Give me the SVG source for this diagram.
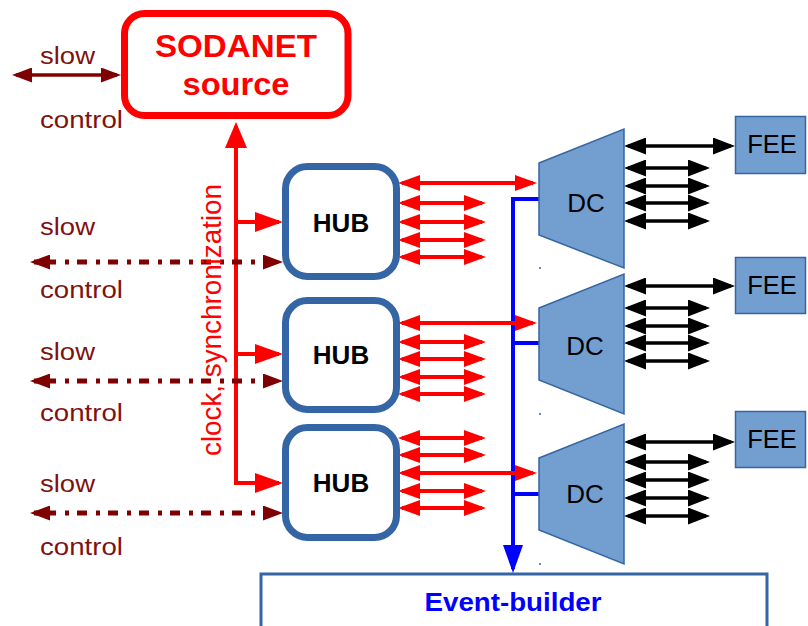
<svg xmlns="http://www.w3.org/2000/svg" width="808" height="626" viewBox="0 0 808 626">
  <style>
    .txt { font-family: "Liberation Sans", Arial, sans-serif; }
    .hub { fill: #ffffff; stroke: #3465a4; stroke-width: 7; }
    .dc, .fee { fill: #729fcf; stroke: #3465a4; stroke-width: 1.5; }
    .red { stroke: #ff0000; stroke-width: 4; fill: none; }
    .blk { stroke: #000000; stroke-width: 3.5; fill: none; }
    .mar { stroke: #7f0000; stroke-width: 3.5; fill: none; }
    .dash { stroke-width: 5; stroke-dasharray: 4 8 10 9; }
    .blu { stroke: #0000ff; stroke-width: 4; fill: none; }
    .sc { fill: #7f1111; font-size: 23px; }
  </style>
  <defs>
    <marker id="rh" markerUnits="userSpaceOnUse" markerWidth="22" markerHeight="16" refX="18" refY="8" orient="auto-start-reverse" viewBox="0 0 22 16">
      <path d="M0,0 L22,8 L0,16 z" fill="#ff0000"/>
    </marker>
    <marker id="ru" markerUnits="userSpaceOnUse" markerWidth="26" markerHeight="22" refX="22" refY="11" orient="auto" viewBox="0 0 26 22">
      <path d="M0,0 L26,11 L0,22 z" fill="#ff0000"/>
    </marker>
    <marker id="rb" markerUnits="userSpaceOnUse" markerWidth="28" markerHeight="20" refX="24" refY="10" orient="auto" viewBox="0 0 28 20">
      <path d="M0,0 L28,10 L0,20 z" fill="#ff0000"/>
    </marker>
    <marker id="kh" markerUnits="userSpaceOnUse" markerWidth="22" markerHeight="17" refX="18" refY="8.5" orient="auto-start-reverse" viewBox="0 0 22 17">
      <path d="M0,0 L22,8.5 L0,17 z" fill="#000000"/>
    </marker>
    <marker id="mh" markerUnits="userSpaceOnUse" markerWidth="20" markerHeight="15" refX="16" refY="7.5" orient="auto-start-reverse" viewBox="0 0 20 15">
      <path d="M0,0 L20,7.5 L0,15 z" fill="#7f0000"/>
    </marker>
    <marker id="bh" markerUnits="userSpaceOnUse" markerWidth="28" markerHeight="20" refX="24" refY="10" orient="auto" viewBox="0 0 28 20">
      <path d="M0,0 L28,10 L0,20 z" fill="#0000ff"/>
    </marker>
  </defs>

  <!-- event builder -->
  <g id="event-builder">
    <rect x="261" y="574" width="506" height="70" fill="#ffffff" stroke="#3465a4" stroke-width="3"/>
    <text class="txt" x="513" y="611" font-size="25" font-weight="bold" fill="#0000ff" text-anchor="middle" textLength="177" lengthAdjust="spacingAndGlyphs">Event-builder</text>
  </g>

  <g id="connectors">
    <!-- readout bus -->
    <path class="blu" d="M539,199 H513 V569" marker-end="url(#bh)"/>
    <path class="blu" d="M513,343 H539"/>
    <path class="blu" d="M513,494 H539"/>

    <!-- clock / synchronization distribution -->
    <path class="red" stroke-width="4.5" d="M236,483 V126" marker-end="url(#ru)"/>
    <path class="red" d="M236,222 H279" marker-end="url(#rb)"/>
    <path class="red" d="M234,483 H279" marker-end="url(#rb)"/>
    <path class="red" d="M236,354 H279" marker-end="url(#rb)"/>

    <!-- slow control -->
    <path class="mar" d="M16,75 H117" marker-start="url(#mh)" marker-end="url(#mh)"/>
    <path class="mar dash" d="M34,262 H279" marker-start="url(#mh)" marker-end="url(#mh)"/>
    <path class="mar dash" d="M34,381 H279" marker-start="url(#mh)" marker-end="url(#mh)"/>
    <path class="mar dash" d="M34,513 H279" marker-start="url(#mh)" marker-end="url(#mh)"/>

    <!-- HUB 1 links -->
    <path class="red" d="M402,183 H533" marker-start="url(#rh)" marker-end="url(#rh)"/>
    <path class="red" d="M402,203 H482" marker-start="url(#rh)" marker-end="url(#rh)"/>
    <path class="red" d="M402,222 H482" marker-start="url(#rh)" marker-end="url(#rh)"/>
    <path class="red" d="M402,240 H482" marker-start="url(#rh)" marker-end="url(#rh)"/>
    <path class="red" d="M402,257 H482" marker-start="url(#rh)" marker-end="url(#rh)"/>
    <!-- HUB 2 links -->
    <path class="red" d="M402,323 H533" marker-start="url(#rh)" marker-end="url(#rh)"/>
    <path class="red" d="M402,342 H482" marker-start="url(#rh)" marker-end="url(#rh)"/>
    <path class="red" d="M402,359 H482" marker-start="url(#rh)" marker-end="url(#rh)"/>
    <path class="red" d="M402,377 H482" marker-start="url(#rh)" marker-end="url(#rh)"/>
    <path class="red" d="M402,394 H482" marker-start="url(#rh)" marker-end="url(#rh)"/>
    <!-- HUB 3 links -->
    <path class="red" d="M402,438 H482" marker-start="url(#rh)" marker-end="url(#rh)"/>
    <path class="red" d="M402,455 H482" marker-start="url(#rh)" marker-end="url(#rh)"/>
    <path class="red" d="M402,473 H533" marker-start="url(#rh)" marker-end="url(#rh)"/>
    <path class="red" d="M402,491 H482" marker-start="url(#rh)" marker-end="url(#rh)"/>
    <path class="red" d="M402,508 H482" marker-start="url(#rh)" marker-end="url(#rh)"/>

    <!-- DC 1 front-end links -->
    <path class="blk" d="M628,146 H731" marker-start="url(#kh)" marker-end="url(#kh)"/>
    <path class="blk" d="M628,168 H706" marker-start="url(#kh)" marker-end="url(#kh)"/>
    <path class="blk" d="M628,186 H706" marker-start="url(#kh)" marker-end="url(#kh)"/>
    <path class="blk" d="M628,203 H706" marker-start="url(#kh)" marker-end="url(#kh)"/>
    <path class="blk" d="M628,221 H706" marker-start="url(#kh)" marker-end="url(#kh)"/>
    <!-- DC 2 front-end links -->
    <path class="blk" d="M628,286 H731" marker-start="url(#kh)" marker-end="url(#kh)"/>
    <path class="blk" d="M628,308 H706" marker-start="url(#kh)" marker-end="url(#kh)"/>
    <path class="blk" d="M628,326 H706" marker-start="url(#kh)" marker-end="url(#kh)"/>
    <path class="blk" d="M628,343 H706" marker-start="url(#kh)" marker-end="url(#kh)"/>
    <path class="blk" d="M628,361 H706" marker-start="url(#kh)" marker-end="url(#kh)"/>
    <!-- DC 3 front-end links -->
    <path class="blk" d="M628,442 H731" marker-start="url(#kh)" marker-end="url(#kh)"/>
    <path class="blk" d="M628,462 H706" marker-start="url(#kh)" marker-end="url(#kh)"/>
    <path class="blk" d="M628,480 H706" marker-start="url(#kh)" marker-end="url(#kh)"/>
    <path class="blk" d="M628,498 H706" marker-start="url(#kh)" marker-end="url(#kh)"/>
    <path class="blk" d="M628,516 H706" marker-start="url(#kh)" marker-end="url(#kh)"/>
  </g>

  <!-- SODANET source -->
  <g id="sodanet">
    <rect x="124.5" y="13.5" width="223.5" height="102" rx="20" fill="#ffffff" stroke="#ff0000" stroke-width="7"/>
    <text class="txt" x="236" y="57" font-size="31" font-weight="bold" fill="#ff0000" text-anchor="middle" textLength="162" lengthAdjust="spacingAndGlyphs">SODANET</text>
    <text class="txt" x="236" y="95" font-size="31" font-weight="bold" fill="#ff0000" text-anchor="middle" textLength="107" lengthAdjust="spacingAndGlyphs">source</text>
  </g>

  <g id="clock-label">
    <text class="txt" transform="translate(221,456) rotate(-90)" font-size="27" fill="#ff0000" textLength="272" lengthAdjust="spacingAndGlyphs">clock, synchronization</text>
  </g>

  <!-- slow control labels -->
  <g id="slow-control-labels">
    <text class="txt sc" x="40" y="64" textLength="55" lengthAdjust="spacingAndGlyphs">slow</text>
    <text class="txt sc" x="40" y="128" textLength="83" lengthAdjust="spacingAndGlyphs">control</text>
    <text class="txt sc" x="40" y="235" textLength="55" lengthAdjust="spacingAndGlyphs">slow</text>
    <text class="txt sc" x="40" y="298" textLength="83" lengthAdjust="spacingAndGlyphs">control</text>
    <text class="txt sc" x="40" y="360" textLength="55" lengthAdjust="spacingAndGlyphs">slow</text>
    <text class="txt sc" x="40" y="421" textLength="83" lengthAdjust="spacingAndGlyphs">control</text>
    <text class="txt sc" x="40" y="492" textLength="55" lengthAdjust="spacingAndGlyphs">slow</text>
    <text class="txt sc" x="40" y="555" textLength="83" lengthAdjust="spacingAndGlyphs">control</text>
  </g>

  <!-- HUBs -->
  <g id="hub1">
    <rect class="hub" x="285.5" y="166.5" width="111" height="110" rx="22"/>
    <text class="txt" x="341" y="232" font-size="26" font-weight="bold" text-anchor="middle">HUB</text>
  </g>
  <g id="hub2">
    <rect class="hub" x="285.5" y="300.5" width="111" height="109" rx="22"/>
    <text class="txt" x="341" y="364" font-size="26" font-weight="bold" text-anchor="middle">HUB</text>
  </g>
  <g id="hub3">
    <rect class="hub" x="285.5" y="427.5" width="111" height="110" rx="22"/>
    <text class="txt" x="341" y="492" font-size="26" font-weight="bold" text-anchor="middle">HUB</text>
  </g>

  <!-- data concentrators -->
  <g id="dc1">
    <polygon class="dc" points="539,163 624,129 624,268 539,235"/>
    <text class="txt" x="586" y="212" font-size="26" text-anchor="middle">DC</text>
  </g>
  <g id="dc2">
    <polygon class="dc" points="539,308 624,274 624,414 539,380"/>
    <text class="txt" x="585" y="355" font-size="26" text-anchor="middle">DC</text>
  </g>
  <g id="dc3">
    <polygon class="dc" points="539,458 624,424 624,564 539,530"/>
    <text class="txt" x="585" y="503" font-size="26" text-anchor="middle">DC</text>
  </g>
  <g id="dc-dots" fill="#3465a4">
    <circle cx="540" cy="268" r="1"/>
    <circle cx="540" cy="414" r="1"/>
    <circle cx="540" cy="564" r="1"/>
  </g>

  <!-- front-end electronics -->
  <g id="fee1">
    <rect class="fee" x="735.5" y="116.5" width="70" height="57"/>
    <text class="txt" x="772" y="153" font-size="25.5" text-anchor="middle">FEE</text>
  </g>
  <g id="fee2">
    <rect class="fee" x="735.5" y="257.5" width="70" height="56"/>
    <text class="txt" x="772" y="294" font-size="25.5" text-anchor="middle">FEE</text>
  </g>
  <g id="fee3">
    <rect class="fee" x="735.5" y="411.5" width="70" height="56"/>
    <text class="txt" x="772" y="448" font-size="25.5" text-anchor="middle">FEE</text>
  </g>
</svg>
